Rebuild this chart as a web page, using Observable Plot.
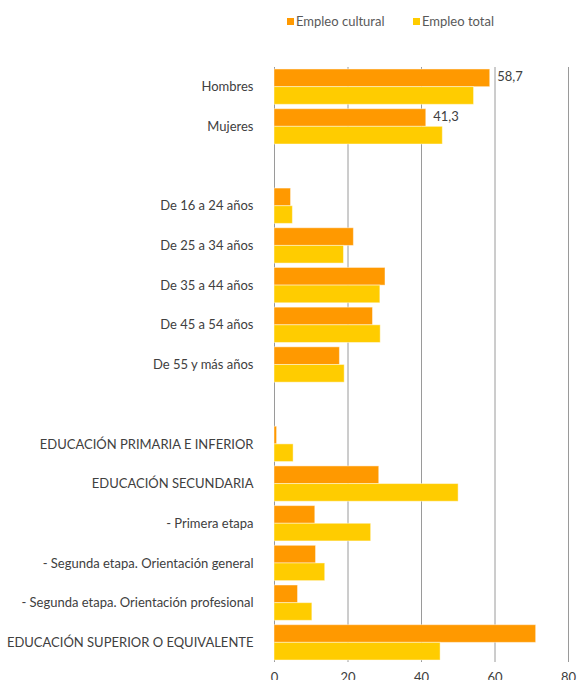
<!DOCTYPE html>
<html>
<head>
<meta charset="utf-8">
<script src="https://cdn.jsdelivr.net/npm/d3@7"></script>
<script src="https://cdn.jsdelivr.net/npm/@observablehq/plot@0.6"></script>
<style>
  html, body { margin: 0; background: #fff; font-family: Lato, "Open Sans", sans-serif; overflow: hidden; }
  #legend { position: relative; height: 44px; width: 577px; font-size: 13px; color: #595959; }
  .item { position: absolute; top: 13px; display: flex; align-items: center; }
  .sw { width: 7px; height: 7px; margin-right: 2px; }
  #chart svg { display: block; }
</style>
</head>
<body>
<div id="legend"></div>
<div id="chart"></div>
<script>
const categories = [
  "Hombres", "Mujeres", " ",
  "De 16 a 24 años", "De 25 a 34 años", "De 35 a 44 años", "De 45 a 54 años", "De 55 y más años", "  ",
  "EDUCACIÓN PRIMARIA E INFERIOR", "EDUCACIÓN SECUNDARIA", "- Primera etapa",
  "- Segunda etapa. Orientación general", "- Segunda etapa. Orientación profesional",
  "EDUCACIÓN SUPERIOR O EQUIVALENTE"
];
const seriesNames = ["Empleo cultural", "Empleo total"];
const seriesColors = ["#FF9900", "#FFCC00"];
const cultural = [58.7, 41.3, null, 4.5, 21.6, 30.2, 26.8, 17.8, null, 0.7, 28.5, 11.1, 11.3, 6.4, 71.2];
const total    = [54.3, 45.8, null, 5.0, 18.9, 28.8, 28.9, 19.1, null, 5.2, 50.1, 26.3, 13.8, 10.3, 45.2];
const labeled = ["Hombres", "Mujeres"];
const xTicks = [0, 20, 40, 60, 80];

// legend
const legend = document.getElementById("legend");
const legendX = [287, 413];
seriesNames.forEach((s, i) => {
  const it = document.createElement("div");
  it.className = "item";
  it.style.left = legendX[i] + "px";
  it.innerHTML = `<span class="sw" style="background:${seriesColors[i]}"></span><span>${s}</span>`;
  legend.appendChild(it);
});

const rows = [];
categories.forEach((c, i) => {
  if (cultural[i] != null) rows.push({cat: c, series: seriesNames[0], value: cultural[i]});
  if (total[i] != null) rows.push({cat: c, series: seriesNames[1], value: total[i]});
});
const culturalRows = rows.filter(d => d.series === seriesNames[0]);
const totalRows = rows.filter(d => d.series === seriesNames[1]);
const labelRows = culturalRows.filter(d => labeled.includes(d.cat));

const half = 17.65;
const chart = Plot.plot({
  width: 577,
  height: 636,
  marginTop: 23,
  marginBottom: 18,
  marginLeft: 274,
  marginRight: 9,
  style: {fontFamily: "Lato, 'Open Sans', sans-serif", fontSize: "13px", color: "#404040", background: "#fff"},
  x: {domain: [0, 80], ticks: xTicks, tickSize: 0, tickPadding: 10, label: null},
  y: {domain: categories, round: false, paddingInner: 0.11, paddingOuter: 0.05, tickSize: 0, tickPadding: 21, label: null},
  color: {domain: seriesNames, range: seriesColors},
  marks: [
    Plot.ruleX(xTicks, {stroke: "#9a9a9a", strokeWidth: 1}),
    Plot.barX(culturalRows, {x: "value", y: "cat", fill: "series", insetBottom: half, stroke: "#fff", strokeOpacity: 0.45, strokeWidth: 1}),
    Plot.barX(totalRows, {x: "value", y: "cat", fill: "series", insetTop: half, stroke: "#fff", strokeOpacity: 0.45, strokeWidth: 1}),
    Plot.text(labelRows, {x: "value", y: "cat", text: d => d.value.toFixed(1).replace(".", ","), textAnchor: "start", dx: 7, dy: -10, fill: "#404040", fontSize: 13})
  ]
});
document.getElementById("chart").appendChild(chart);
</script>
</body>
</html>
